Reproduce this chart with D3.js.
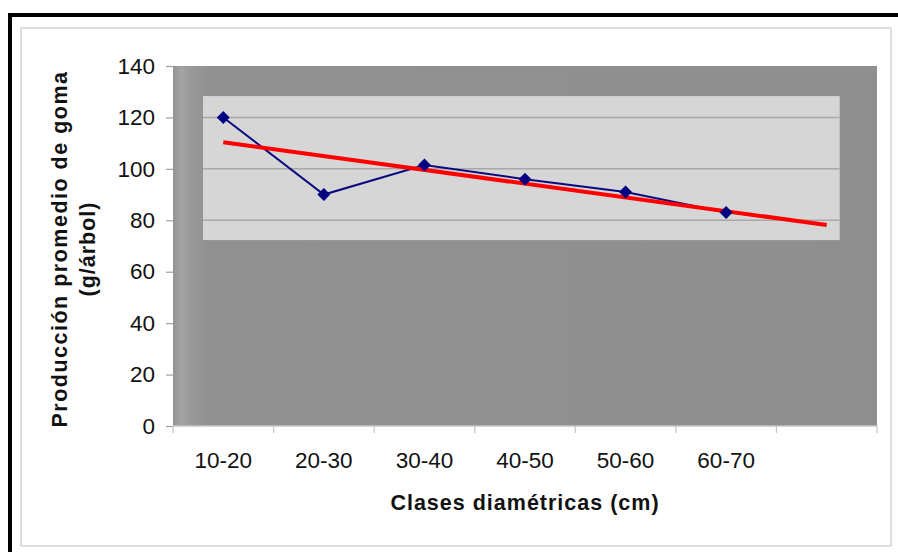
<!DOCTYPE html>
<html>
<head>
<meta charset="utf-8">
<script src="https://cdn.jsdelivr.net/npm/d3@7"></script>
<style>
  html, body { margin: 0; padding: 0; background: #ffffff; }
  svg { display: block; font-family: "Liberation Sans", Arial, sans-serif; }
</style>
</head>
<body>
<svg id="chart" width="898" height="552"></svg>
<script>
// Diameter classes and mean gum yield per tree
const categories = ["10-20", "20-30", "30-40", "40-50", "50-60", "60-70"];
const yieldValues = [120, 90, 101.5, 96, 91, 83];
const yTicks = [0, 20, 40, 60, 80, 100, 120, 140];
const forecastSlots = 1;               // trend line projected one class ahead
const panelRange = [72.3, 128.3];      // light inner panel, in g/árbol

const xTitle = "Clases diamétricas (cm)";
const yTitle = ["Producción promedio de goma", "(g/árbol)"];

const svg = d3.select("#chart");
const W = 898, H = 552;
const plot = { left: 173, right: 877, top: 66, bottom: 426 };

// Outer frame
svg.append("rect").attr("x", 0).attr("y", 0).attr("width", W).attr("height", H).attr("fill", "#ffffff");
svg.append("path")
  .attr("d", `M10,${H} L10,15 L${W},15`)
  .attr("fill", "none").attr("stroke", "#000").attr("stroke-width", 4);
svg.append("rect")
  .attr("x", 21).attr("y", 28).attr("width", 870).attr("height", 518)
  .attr("fill", "none").attr("stroke", "#d4d4d4").attr("stroke-width", 1.5);

// Scales
const slotKeys = categories.concat(d3.range(forecastSlots).map(i => "__f" + i));
const x = d3.scaleBand().domain(slotKeys).range([plot.left, plot.right]).padding(0);
const y = d3.scaleLinear().domain([0, 140]).range([plot.bottom, plot.top]);
const cx = k => x(k) + x.bandwidth() / 2;

// Plot area background with a soft lighter band along its left edge
const defs = svg.append("defs");
const edge = defs.append("linearGradient").attr("id", "edgeGrad")
  .attr("x1", "0").attr("x2", "1").attr("y1", "0").attr("y2", "0");
[[0, "#949494"], [0.012, "#a4a4a4"], [0.025, "#9a9a9a"], [0.05, "#919191"], [1, "#8f8f8f"]]
  .forEach(([o, c]) => edge.append("stop").attr("offset", o).attr("stop-color", c));

svg.append("rect")
  .attr("x", plot.left).attr("y", plot.top)
  .attr("width", plot.right - plot.left).attr("height", plot.bottom - plot.top)
  .attr("fill", "url(#edgeGrad)");

// Light inner panel
const panelX0 = plot.left + (plot.right - plot.left) * 0.0426;
const panelX1 = plot.left + (plot.right - plot.left) * 0.947;
svg.append("rect")
  .attr("x", panelX0).attr("y", y(panelRange[1]))
  .attr("width", panelX1 - panelX0).attr("height", y(panelRange[0]) - y(panelRange[1]))
  .attr("fill", "#d6d6d6");

// Gridlines (visible on the light panel)
svg.append("g").selectAll("line")
  .data(yTicks.filter(v => v > panelRange[0] && v < panelRange[1]))
  .join("line")
  .attr("x1", panelX0).attr("x2", panelX1)
  .attr("y1", d => y(d)).attr("y2", d => y(d))
  .attr("stroke", "#a8a8a8").attr("stroke-width", 1.5);

// Y axis
const yAxis = svg.append("g")
  .attr("transform", `translate(${plot.left},0)`)
  .call(d3.axisLeft(y).tickValues(yTicks).tickSize(7).tickPadding(11));
yAxis.select(".domain").remove();
yAxis.selectAll(".tick line").attr("stroke", "#a0a0a0").attr("stroke-width", 1.2);
yAxis.selectAll(".tick text")
  .attr("font-size", 22.5).attr("fill", "#111").attr("font-family", "Liberation Sans, Arial, sans-serif");

// X axis: line, boundary ticks and category labels
const xAxis = svg.append("g").attr("transform", `translate(0,${plot.bottom})`);
xAxis.append("line")
  .attr("x1", plot.left).attr("x2", plot.right).attr("y1", 0).attr("y2", 0)
  .attr("stroke", "#c4c4c4").attr("stroke-width", 1.5);
xAxis.selectAll(".bt")
  .data(slotKeys.map(k => x(k)).concat([x.range()[1]]))
  .join("line").attr("class", "bt")
  .attr("x1", d => d).attr("x2", d => d).attr("y1", 0).attr("y2", 7)
  .attr("stroke", "#c4c4c4").attr("stroke-width", 1.2);
xAxis.selectAll(".lbl")
  .data(categories)
  .join("text").attr("class", "lbl")
  .attr("x", d => cx(d)).attr("y", 42)
  .attr("text-anchor", "middle")
  .attr("font-size", 22.5).attr("fill", "#111")
  .text(d => d);

// Axis titles
svg.append("text")
  .attr("x", (plot.left + plot.right) / 2).attr("y", 510)
  .attr("text-anchor", "middle")
  .attr("font-size", 21.5).attr("font-weight", "bold").attr("letter-spacing", 1.0)
  .attr("fill", "#111")
  .text(xTitle);
svg.selectAll(".ytitle")
  .data(yTitle)
  .join("text").attr("class", "ytitle")
  .attr("transform", (d, i) => `translate(${i === 0 ? 67 : 95},249) rotate(-90)`)
  .attr("text-anchor", "middle")
  .attr("font-size", 21.5).attr("font-weight", "bold")
  .attr("letter-spacing", (d, i) => i === 0 ? 1.5 : 1.0)
  .attr("fill", "#111")
  .text(d => d);

// Linear trend (least squares over class index), extended by forecastSlots
const n = yieldValues.length;
const idx = d3.range(1, n + 1);
const mx = d3.mean(idx), my = d3.mean(yieldValues);
const slope = d3.sum(idx, (t, i) => (t - mx) * (yieldValues[i] - my)) / d3.sum(idx, t => (t - mx) ** 2);
const intercept = my - slope * mx;
const trendStart = { k: slotKeys[0], v: intercept + slope * 1 };
const trendEnd = { k: slotKeys[slotKeys.length - 1], v: intercept + slope * slotKeys.length };

// Data series
const pts = categories.map((c, i) => ({ c, v: yieldValues[i] }));
svg.append("path")
  .datum(pts)
  .attr("d", d3.line().x(d => cx(d.c)).y(d => y(d.v)))
  .attr("fill", "none").attr("stroke", "#0a0a80").attr("stroke-width", 2);

svg.append("line")
  .attr("x1", cx(trendStart.k)).attr("y1", y(trendStart.v))
  .attr("x2", cx(trendEnd.k)).attr("y2", y(trendEnd.v))
  .attr("stroke", "#ff0000").attr("stroke-width", 4);

svg.append("g").selectAll("path")
  .data(pts)
  .join("path")
  .attr("transform", d => `translate(${cx(d.c)},${y(d.v)}) rotate(45)`)
  .attr("d", d3.symbol().type(d3.symbolSquare).size(84))
  .attr("fill", "#000080");
</script>
</body>
</html>
